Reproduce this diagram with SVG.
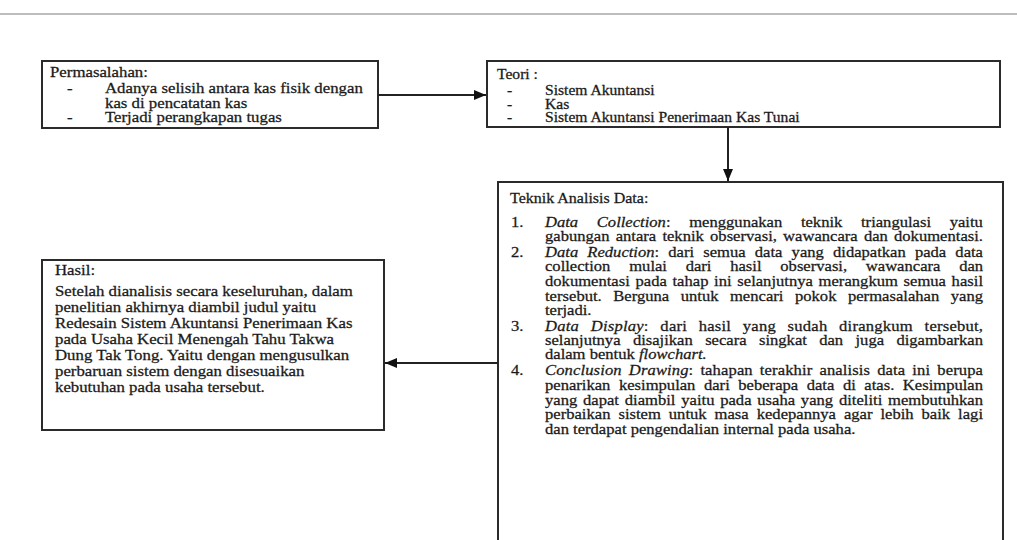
<svg xmlns="http://www.w3.org/2000/svg" width="1017" height="540" viewBox="0 0 1017 540">
<defs>
<style>
text{font-family:"Liberation Serif","Times New Roman",serif;font-size:16.6px;fill:#1a1a1a;stroke:#1a1a1a;stroke-width:0.3px}
.b1 text{font-size:16.8px}
.t2 text{font-size:15.6px}
.h4 text{font-size:16.8px}
.ttl{font-size:16px}
.box{fill:#fff;stroke:#2b2b2b;stroke-width:2}
.con{stroke:#222;stroke-width:2;fill:none}
.it{font-style:italic}
</style>
<marker id="ah" viewBox="0 0 12 10" refX="12" refY="5" markerWidth="12" markerHeight="10" markerUnits="userSpaceOnUse" orient="auto">
<path d="M0,0 L12,5 L0,10 Z" fill="#111"/>
</marker>
</defs>
<rect width="1017" height="540" fill="#fff"/>
<line x1="0" y1="14" x2="1017" y2="14" stroke="#bdbdbd" stroke-width="2"/>

<g id="permasalahan" class="b1">
<rect class="box" x="42" y="61" width="336" height="67"/>
<text x="50" transform="matrix(1 0 0 .88 0 77)">Permasalahan:</text>
<text x="67" transform="matrix(1 0 0 .88 0 93)">-</text>
<text x="105" transform="matrix(1 0 0 .88 0 93)">Adanya selisih antara kas fisik dengan</text>
<text x="105" transform="matrix(1 0 0 .88 0 108)">kas di pencatatan kas</text>
<text x="67" transform="matrix(1 0 0 .88 0 122)">-</text>
<text x="105" transform="matrix(1 0 0 .88 0 122)">Terjadi perangkapan tugas</text>
</g>

<g id="teori" class="t2">
<rect class="box" x="487" y="61" width="513" height="66"/>
<text x="497" transform="matrix(1 0 0 .88 0 79)">Teori :</text>
<text x="507" transform="matrix(1 0 0 .88 0 95)">-</text>
<text x="545" transform="matrix(1 0 0 .88 0 95)">Sistem Akuntansi</text>
<text x="507" transform="matrix(1 0 0 .88 0 109)">-</text>
<text x="545" transform="matrix(1 0 0 .88 0 109)">Kas</text>
<text x="507" transform="matrix(1 0 0 .88 0 122)">-</text>
<text x="545" transform="matrix(1 0 0 .88 0 122)">Sistem Akuntansi Penerimaan Kas Tunai</text>
</g>

<g id="teknik-analisis">
<rect class="box" x="498" y="182" width="505" height="365"/>
<text class="ttl" x="510" transform="matrix(1 0 0 .88 0 203)">Teknik Analisis Data:</text>
<text x="511" transform="matrix(1 0 0 .88 0 227)">1.</text>
<text transform="matrix(1 0 0 .88 0 227)"><tspan class="it" x="545">Data</tspan><tspan class="it" x="596.8">Collection</tspan>:<tspan x="689.2">menggunakan</tspan><tspan x="800.9">teknik</tspan><tspan x="861">triangulasi</tspan><tspan x="949.7">yaitu</tspan></text>
<text x="545" transform="matrix(1 0 0 .88 0 241)" style="word-spacing:2px" textLength="438" lengthAdjust="spacing">gabungan antara teknik observasi, wawancara dan dokumentasi.</text>
<text x="511" transform="matrix(1 0 0 .88 0 257)">2.</text>
<text x="545" transform="matrix(1 0 0 .88 0 257)" style="word-spacing:5px" textLength="438" lengthAdjust="spacing"><tspan class="it">Data Reduction</tspan>: dari semua data yang didapatkan pada data</text>
<text transform="matrix(1 0 0 .88 0 271)"><tspan x="545">collection</tspan><tspan x="629.2">mulai</tspan><tspan x="685.7">dari</tspan><tspan x="730.2">hasil</tspan><tspan x="780.3">observasi,</tspan><tspan x="865.8">wawancara</tspan><tspan x="959.2">dan</tspan></text>
<text x="545" transform="matrix(1 0 0 .88 0 286)" style="word-spacing:1.5px" textLength="438" lengthAdjust="spacing">dokumentasi pada tahap ini selanjutnya merangkum semua hasil</text>
<text x="545" transform="matrix(1 0 0 .88 0 301)" style="word-spacing:7.3px" textLength="438" lengthAdjust="spacing">tersebut. Berguna untuk mencari pokok permasalahan yang</text>
<text x="545" transform="matrix(1 0 0 .88 0 315)">terjadi.</text>
<text x="511" transform="matrix(1 0 0 .88 0 331)">3.</text>
<text x="545" transform="matrix(1 0 0 .88 0 331)" style="word-spacing:7.3px" textLength="438" lengthAdjust="spacing"><tspan class="it">Data Display</tspan>: dari hasil yang sudah dirangkum tersebut,</text>
<text x="545" transform="matrix(1 0 0 .88 0 345)" style="word-spacing:8.2px" textLength="438" lengthAdjust="spacing">selanjutnya disajikan secara singkat dan juga digambarkan</text>
<text x="545" transform="matrix(1 0 0 .88 0 359)">dalam bentuk <tspan class="it">flowchart.</tspan></text>
<text x="511" transform="matrix(1 0 0 .88 0 375)">4.</text>
<text x="545" transform="matrix(1 0 0 .88 0 375)" style="word-spacing:2.8px" textLength="438" lengthAdjust="spacing"><tspan class="it">Conclusion Drawing</tspan>: tahapan terakhir analisis data ini berupa</text>
<text x="545" transform="matrix(1 0 0 .88 0 390)" style="word-spacing:4.4px" textLength="438" lengthAdjust="spacing">penarikan kesimpulan dari beberapa data di atas. Kesimpulan</text>
<text x="545" transform="matrix(1 0 0 .88 0 405)" style="word-spacing:1.6px" textLength="438" lengthAdjust="spacing">yang dapat diambil yaitu pada usaha yang diteliti membutuhkan</text>
<text x="545" transform="matrix(1 0 0 .88 0 419)" style="word-spacing:3.8px" textLength="438" lengthAdjust="spacing">perbaikan sistem untuk masa kedepannya agar lebih baik lagi</text>
<text x="545" transform="matrix(1 0 0 .88 0 434)">dan terdapat pengendalian internal pada usaha.</text>
</g>

<g id="hasil" class="h4">
<rect class="box" x="42" y="260" width="342" height="170"/>
<text x="55" transform="matrix(1 0 0 .88 0 275)">Hasil:</text>
<text x="55" transform="matrix(1 0 0 .88 0 296)">Setelah dianalisis secara keseluruhan, dalam</text>
<text x="55" transform="matrix(1 0 0 .88 0 312)">penelitian akhirnya diambil judul yaitu</text>
<text x="55" transform="matrix(1 0 0 .88 0 328)">Redesain Sistem Akuntansi Penerimaan Kas</text>
<text x="55" transform="matrix(1 0 0 .88 0 344)">pada Usaha Kecil Menengah Tahu Takwa</text>
<text x="55" transform="matrix(1 0 0 .88 0 360)">Dung Tak Tong. Yaitu dengan mengusulkan</text>
<text x="55" transform="matrix(1 0 0 .88 0 376)">perbaruan sistem dengan disesuaikan</text>
<text x="55" transform="matrix(1 0 0 .88 0 392)">kebutuhan pada usaha tersebut.</text>
</g>

<g id="connectors">
<line class="con" x1="378" y1="95" x2="486" y2="95" marker-end="url(#ah)"/>
<line class="con" x1="728" y1="127" x2="728" y2="181" marker-end="url(#ah)"/>
<line class="con" x1="498" y1="363" x2="385" y2="363" marker-end="url(#ah)"/>
</g>
</svg>
